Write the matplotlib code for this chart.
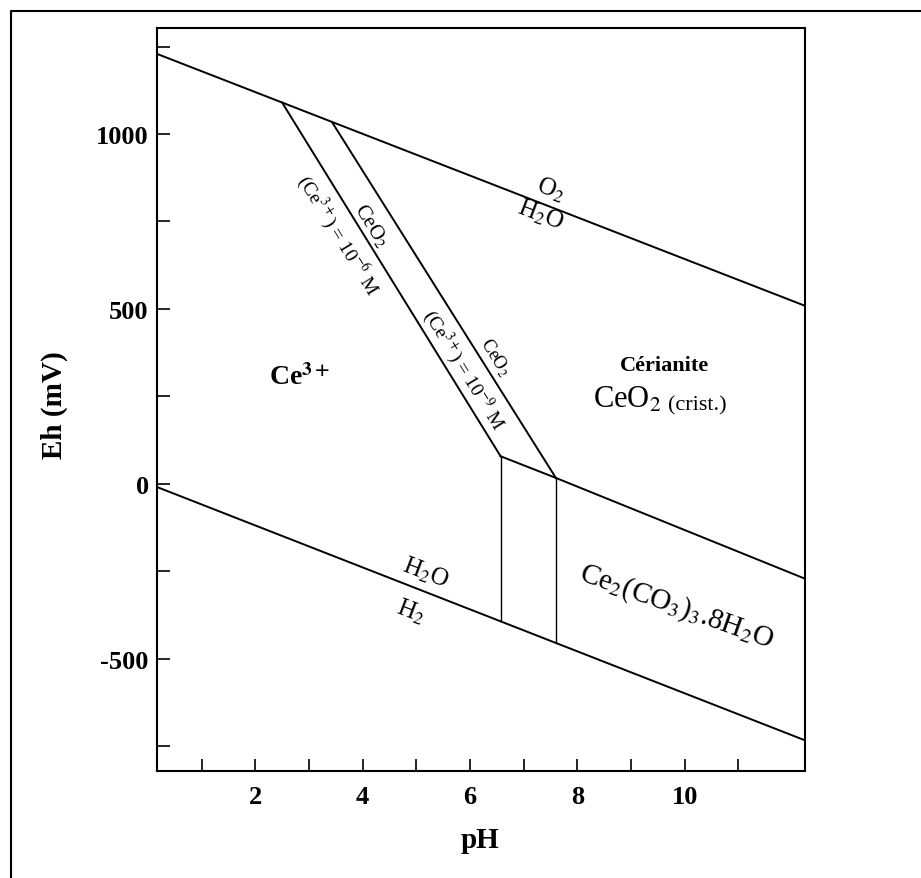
import matplotlib
matplotlib.use('Agg')
import matplotlib.pyplot as plt
from matplotlib.lines import Line2D

plt.rcParams['font.family'] = 'Liberation Serif'
plt.rcParams['mathtext.fontset'] = 'stix'
plt.rcParams['axes.unicode_minus'] = False

# water stability limits (pH, Eh in mV)
o2_ph = [0.17, 12.24]
o2_eh = [1229, 509]
h2_ph = [0.17, 12.24]
h2_eh = [-9, -733]

# Ce3+ / CeO2 boundaries for (Ce3+) = 1e-6 M and 1e-9 M
ce6_ph = [2.50, 6.57]
ce6_eh = [1090, 79]
ce9_ph = [3.43, 7.60]
ce9_eh = [1034, 17]

# CeO2 / carbonate boundary
carb_ph = [6.57, 7.60, 12.24]
carb_eh = [79, 17, -271]

# Ce3+ / carbonate verticals
vert_ph = [6.57, 7.60]
vert_top = [79, 17]
vert_bot = [-393, -455]

fig = plt.figure(figsize=(9.21, 8.79), dpi=100)
ax = fig.add_axes([0.1705, 0.122, 0.7035, 0.845])

# outer frame (left and top edges only)
fig.add_artist(Line2D([0.0119, 0.0119, 1.0], [0.0, 0.9863, 0.9863],
                      transform=fig.transFigure, color='black', lw=1.5))

lw = 1.4
ax.plot(o2_ph, o2_eh, color='black', lw=lw)
ax.plot(h2_ph, h2_eh, color='black', lw=lw)
ax.plot(ce6_ph, ce6_eh, color='black', lw=lw)
ax.plot(ce9_ph, ce9_eh, color='black', lw=lw)
ax.plot(carb_ph, carb_eh, color='black', lw=lw)
for p, t, b in zip(vert_ph, vert_top, vert_bot):
    ax.plot([p, p], [t, b], color='black', lw=1.0)

ax.set_xlim(0.17, 12.24)
ax.set_ylim(-820, 1303)

ax.set_xticks([2, 4, 6, 8, 10])
ax.set_xticks([1, 3, 5, 7, 9, 11], minor=True)
ax.set_yticks([-500, 0, 500, 1000])
ax.set_yticks([-750, -250, 250, 750, 1250], minor=True)
ax.tick_params(which='both', direction='in', length=9, width=1.2)
ax.tick_params(axis='y', pad=6)
ax.tick_params(axis='x', pad=10)
ax.tick_params(which='both', top=False, right=False)
for lab in ax.get_xticklabels() + ax.get_yticklabels():
    lab.set_fontsize(19)
    lab.set_fontweight('bold')
for s in ax.spines.values():
    s.set_linewidth(1.5)

ax.set_xlabel('pH', fontsize=21, fontweight='bold', va='center')
ax.xaxis.set_label_coords(0.498, -0.092)
ax.set_ylabel('Eh (mV)', fontsize=21, fontweight='bold', va='center')
ax.yaxis.set_label_coords(-0.158, 0.494)

# region labels
ax.text(2.82, 306, 'Ce$^{\\mathbf{3+}}$', fontsize=20, fontweight='bold', ha='center', va='center')
ax.text(9.63, 340, 'Cérianite', fontsize=16, fontweight='bold', ha='center', va='center')
ax.text(8.29, 220, 'CeO$_2$', fontsize=22, ha='left', va='baseline')
ax.text(9.69, 214, '(crist.)', fontsize=16, ha='left', va='baseline')
ax.text(9.85, -349, 'Ce$_2$(CO$_3$)$_3$.8H$_2$O', fontsize=21, ha='center', va='center',
        rotation=-19.6, rotation_mode='anchor')

# water line labels
ax.text(7.50, 843, 'O$_2$', fontsize=18, ha='center', va='center', rotation=-21, rotation_mode='anchor')
ax.text(7.32, 771, 'H$_2$O', fontsize=18, ha='center', va='center', rotation=-21, rotation_mode='anchor')
ax.text(5.17, -251, 'H$_2$O', fontsize=18, ha='center', va='center', rotation=-21, rotation_mode='anchor')
ax.text(4.89, -363, 'H$_2$', fontsize=18, ha='center', va='center', rotation=-21, rotation_mode='anchor')

# labels along Ce boundaries
ax.text(3.55, 714, '(Ce$^{3+}$) = 10$^{-6}$ M', fontsize=14, ha='center', va='center',
        rotation=-58.4, rotation_mode='anchor')
ax.text(4.15, 740, 'CeO$_2$', fontsize=15, ha='center', va='center',
        rotation=-58.4, rotation_mode='anchor')
ax.text(5.88, 329, '(Ce$^{3+}$) = 10$^{-9}$ M', fontsize=14, ha='center', va='center',
        rotation=-58.4, rotation_mode='anchor')
ax.text(6.46, 363, 'CeO$_2$', fontsize=13, ha='center', va='center',
        rotation=-58.4, rotation_mode='anchor')

plt.savefig('out.png', dpi=100)
